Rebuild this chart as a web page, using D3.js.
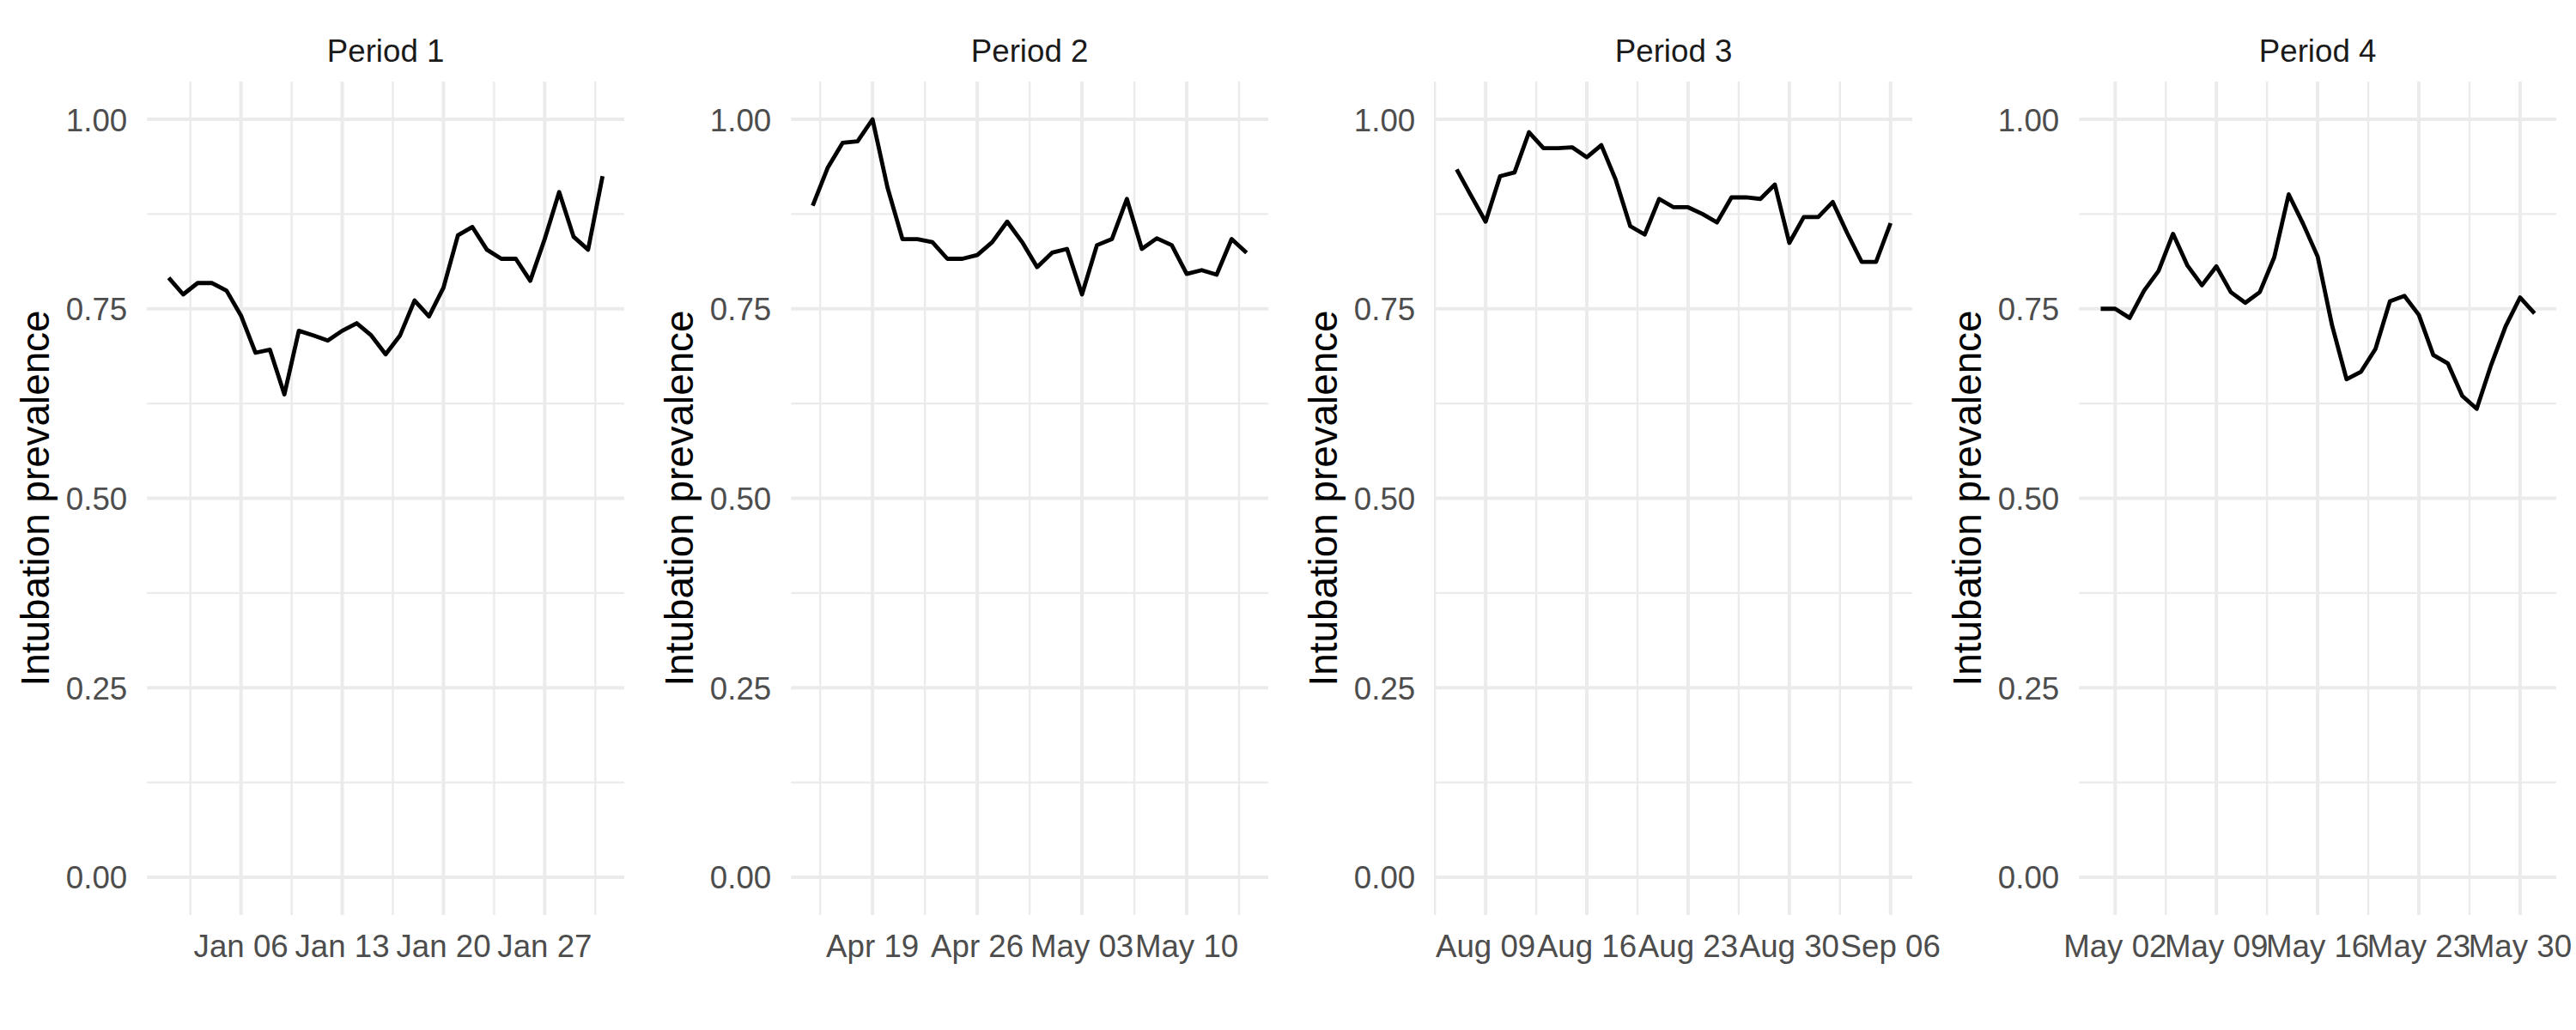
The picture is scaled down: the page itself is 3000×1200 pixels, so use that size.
<!DOCTYPE html>
<html>
<head>
<meta charset="utf-8">
<script src="https://cdn.jsdelivr.net/npm/d3@7"></script>
<style>
  html, body { margin: 0; padding: 0; background: #ffffff; }
  svg { display: block; }
  text { font-family: "Liberation Sans", Arial, Helvetica, sans-serif; }
</style>
</head>
<body>
<svg id="chart" width="3000" height="1200"></svg>
<script>
// ---------------- data ----------------
const panelTitles = ["Period 1", "Period 2", "Period 3", "Period 4"];
const startDates = ["2021-01-01", "2021-04-15", "2021-08-07", "2022-05-01"];

const period1 = [0.791, 0.769, 0.784, 0.784, 0.774, 0.741, 0.692, 0.696, 0.637, 0.721,
                 0.715, 0.708, 0.721, 0.731, 0.715, 0.690, 0.715, 0.761, 0.740, 0.778,
                 0.847, 0.858, 0.828, 0.816, 0.816, 0.787, 0.842, 0.904, 0.845, 0.828, 0.925];
const period2 = [0.886, 0.936, 0.969, 0.971, 1.000, 0.910, 0.842, 0.842, 0.838, 0.816,
                 0.816, 0.821, 0.838, 0.865, 0.838, 0.805, 0.824, 0.829, 0.769, 0.834,
                 0.842, 0.895, 0.829, 0.843, 0.834, 0.796, 0.801, 0.795, 0.842, 0.824];
const period3 = [0.934, 0.899, 0.865, 0.925, 0.930, 0.983, 0.962, 0.962, 0.963, 0.950,
                 0.966, 0.920, 0.859, 0.848, 0.895, 0.884, 0.884, 0.875, 0.864, 0.897,
                 0.897, 0.895, 0.914, 0.837, 0.871, 0.871, 0.891, 0.850, 0.812, 0.812, 0.863];
const period4 = [0.750, 0.750, 0.738, 0.774, 0.800, 0.849, 0.807, 0.781, 0.806, 0.772,
                 0.758, 0.772, 0.818, 0.901, 0.862, 0.819, 0.728, 0.657, 0.667, 0.697,
                 0.760, 0.767, 0.742, 0.689, 0.678, 0.635, 0.618, 0.676, 0.727, 0.765, 0.744];
const seriesValues = [period1, period2, period3, period4];

const tickDates = [
  ["2021-01-06", "2021-01-13", "2021-01-20", "2021-01-27"],
  ["2021-04-19", "2021-04-26", "2021-05-03", "2021-05-10"],
  ["2021-08-09", "2021-08-16", "2021-08-23", "2021-08-30", "2021-09-06"],
  ["2022-05-02", "2022-05-09", "2022-05-16", "2022-05-23", "2022-05-30"]
];
const tickLabels = [
  ["Jan 06", "Jan 13", "Jan 20", "Jan 27"],
  ["Apr 19", "Apr 26", "May 03", "May 10"],
  ["Aug 09", "Aug 16", "Aug 23", "Aug 30", "Sep 06"],
  ["May 02", "May 09", "May 16", "May 23", "May 30"]
];
const yTicks = [0, 0.25, 0.5, 0.75, 1.0];
const yTickLabels = ["0.00", "0.25", "0.50", "0.75", "1.00"];
const yMinorTicks = [0.125, 0.375, 0.625, 0.875];
const yTitle = "Intubation prevalence";

// ---------------- layout ----------------
const DAY = 86400000;
const panelStep = 750, panelLeft0 = 171.2, panelW = 555.8;
const panelTop = 94.9, panelBottom = 1066.1;
const gridCol = "#ebebeb";
const majorW = 4, minorW = 2.4;

const svg = d3.select("#chart");
svg.append("rect").attr("width", 3000).attr("height", 1200).attr("fill", "#ffffff");

const y = d3.scaleLinear().domain([-0.05, 1.05]).range([panelBottom, panelTop]);
const parse = d3.utcParse("%Y-%m-%d");

panelTitles.forEach((title, k) => {
  const left = panelLeft0 + k * panelStep;
  const right = left + panelW;
  const start = parse(startDates[k]);
  const vals = seriesValues[k];
  const data = vals.map((v, i) => ({ date: new Date(start.getTime() + i * DAY), value: v }));
  const end = data[data.length - 1].date;
  const span = end - start;
  const x = d3.scaleUtc()
    .domain([new Date(start.getTime() - 0.05 * span), new Date(end.getTime() + 0.05 * span)])
    .range([left, right]);

  const g = svg.append("g");
  const majors = tickDates[k].map(parse);
  const minors = majors.map(d => new Date(d.getTime() - 3.5 * DAY))
    .concat([new Date(majors[majors.length - 1].getTime() + 3.5 * DAY)])
    .filter(d => d >= x.domain()[0] - 1000 && d <= x.domain()[1].getTime() + 1000);

  // minor grid
  g.selectAll(".ymin").data(yMinorTicks).join("line")
    .attr("x1", left).attr("x2", right)
    .attr("y1", d => y(d)).attr("y2", d => y(d))
    .attr("stroke", gridCol).attr("stroke-width", minorW);
  g.selectAll(".xmin").data(minors).join("line")
    .attr("x1", d => x(d)).attr("x2", d => x(d))
    .attr("y1", panelTop).attr("y2", panelBottom)
    .attr("stroke", gridCol).attr("stroke-width", minorW);
  // major grid
  g.selectAll(".ymaj").data(yTicks).join("line")
    .attr("x1", left).attr("x2", right)
    .attr("y1", d => y(d)).attr("y2", d => y(d))
    .attr("stroke", gridCol).attr("stroke-width", majorW);
  g.selectAll(".xmaj").data(majors).join("line")
    .attr("x1", d => x(d)).attr("x2", d => x(d))
    .attr("y1", panelTop).attr("y2", panelBottom)
    .attr("stroke", gridCol).attr("stroke-width", majorW);

  // y tick labels
  g.selectAll(".ylab").data(yTicks).join("text")
    .attr("x", left - 23).attr("y", d => y(d) + 13.5)
    .attr("text-anchor", "end")
    .attr("font-size", 36.7).attr("fill", "#4d4d4d")
    .text((d, i) => yTickLabels[i]);

  // x tick labels
  g.selectAll(".xlab").data(majors).join("text")
    .attr("x", d => x(d)).attr("y", 1115)
    .attr("text-anchor", "middle")
    .attr("font-size", 36.7).attr("fill", "#4d4d4d")
    .text((d, i) => tickLabels[k][i]);

  // strip title
  g.append("text")
    .attr("x", (left + right) / 2).attr("y", 72)
    .attr("text-anchor", "middle")
    .attr("font-size", 36.7).attr("fill", "#1a1a1a")
    .text(title);

  // y axis title
  g.append("text")
    .attr("transform", `translate(${left - 114},${(panelTop + panelBottom) / 2}) rotate(-90)`)
    .attr("text-anchor", "middle")
    .attr("font-size", 45.8).attr("fill", "#000000")
    .text(yTitle);

  // line
  const line = d3.line().x(d => x(d.date)).y(d => y(d.value));
  g.append("path").datum(data)
    .attr("d", line)
    .attr("fill", "none").attr("stroke", "#000000")
    .attr("stroke-width", 4.8).attr("stroke-linejoin", "round").attr("stroke-linecap", "butt");
});
</script>
</body>
</html>
